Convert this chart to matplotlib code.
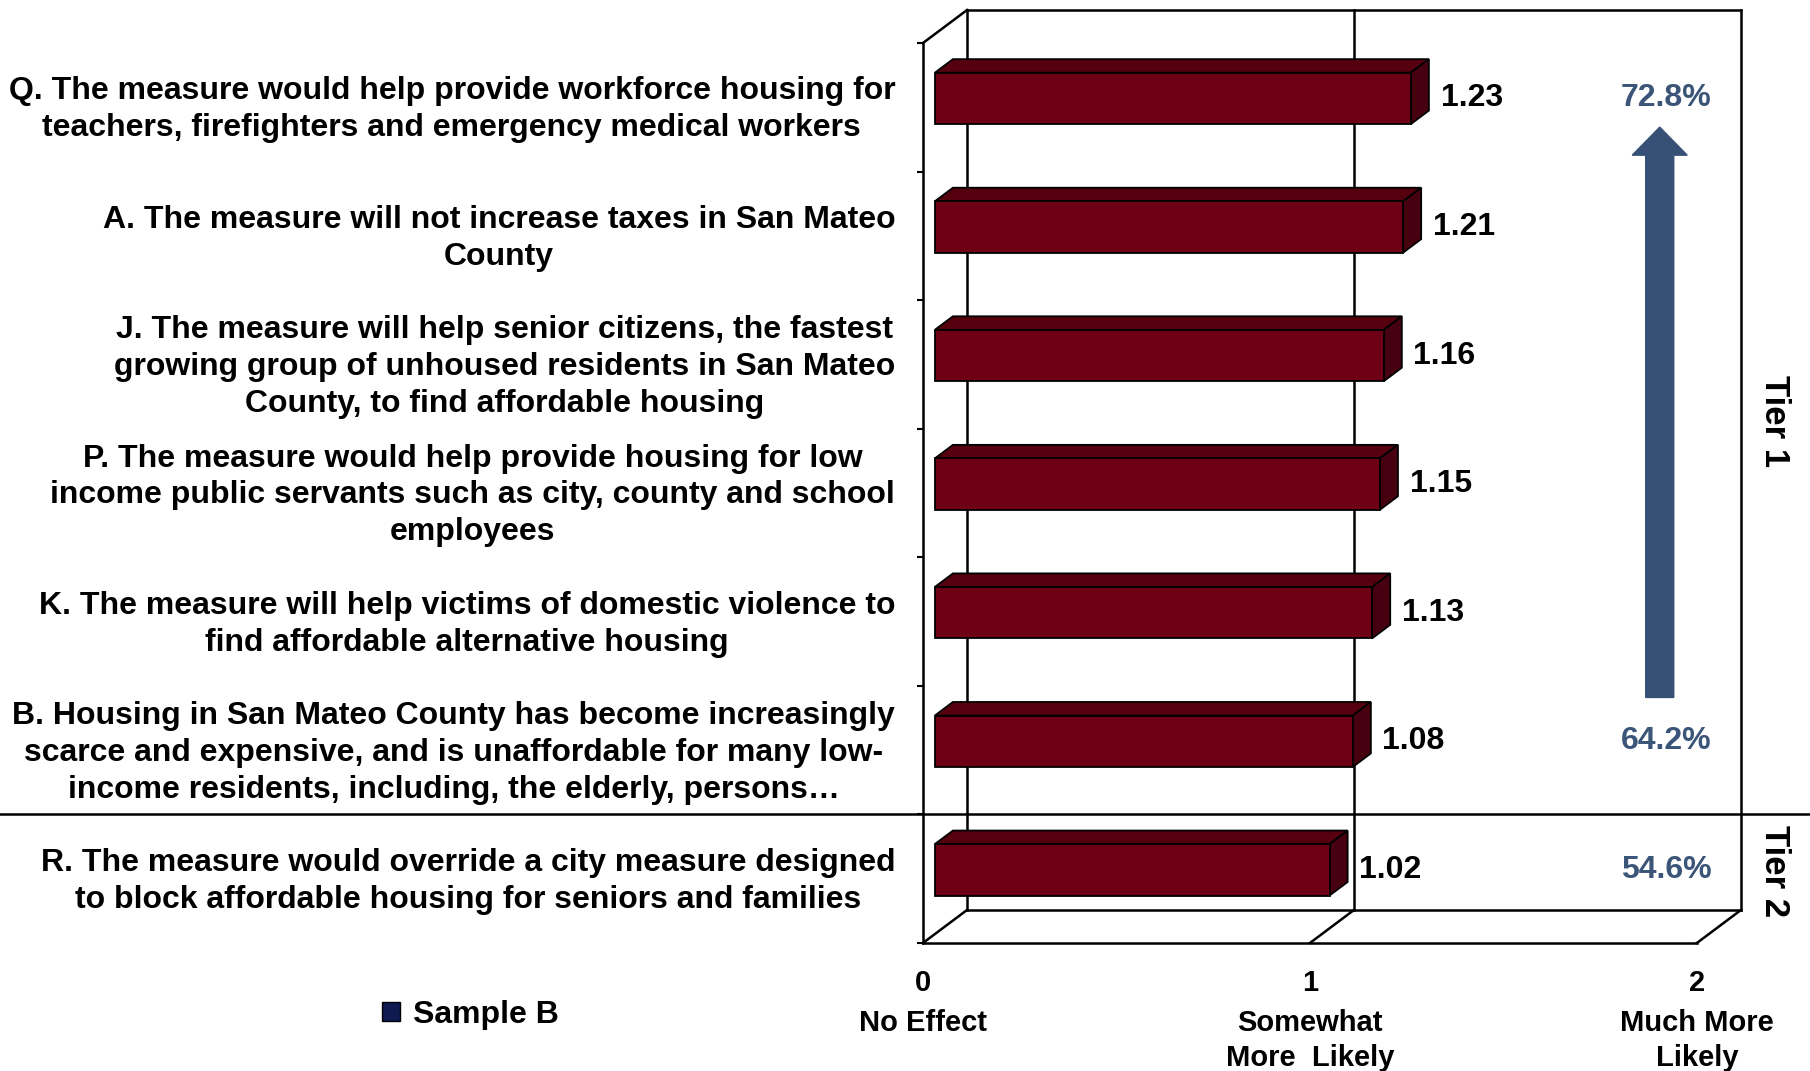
import matplotlib.pyplot as plt
import matplotlib.transforms as mtransforms
from matplotlib.patches import Polygon, Patch, FancyArrow

plt.rcParams['font.family'] = ['Liberation Sans', 'DejaVu Sans']
plt.rcParams['font.weight'] = 'bold'

# statements, top to bottom
labels = [
    "Q. The measure would help provide workforce housing for\nteachers, firefighters and emergency medical workers",
    "A. The measure will not increase taxes in San Mateo\nCounty",
    "J. The measure will help senior citizens, the fastest\ngrowing group of unhoused residents in San Mateo\nCounty, to find affordable housing",
    "P. The measure would help provide housing for low\nincome public servants such as city, county and school\nemployees",
    "K. The measure will help victims of domestic violence to\nfind affordable alternative housing",
    "B. Housing in San Mateo County has become increasingly\nscarce and expensive, and is unaffordable for many low-\nincome residents, including, the elderly, persons\u2026",
    "R. The measure would override a city measure designed\nto block affordable housing for seniors and families",
]
scores = [1.23, 1.21, 1.16, 1.15, 1.13, 1.08, 1.02]

pct_rows = [0, 5, 6]
pct_text = ["72.8%", "64.2%", "54.6%"]

x_ticks = [0, 1, 2]
x_tick_text = ["0", "1", "2"]
x_desc = ["No Effect", "Somewhat\nMore  Likely", "Much More\nLikely"]

BAR_FRONT = "#6e0016"
BAR_TOP = "#56000f"
BAR_SIDE = "#470010"
ARROW_BLUE = "#365076"
TEXT_BLUE = "#3b5579"
LEGEND_NAVY = "#0e1a50"

# depth of the 3d box in data units, and where the bars sit inside it
DX, DY = 0.114, -0.257
D0, D1 = 0.27, 0.68
HALF = 0.2
LW = 1.8


def depth(x, y, d):
    return (x + d * DX, y + d * DY)


n = len(labels)
fig = plt.figure(figsize=(18.1, 10.71), dpi=100)
ax = fig.add_axes([0.5099, 0.1195, 0.4276, 0.8403])

# back wall, left wall and floor lines
top, bot = -0.5, n - 0.5
segments = [
    [(0, top, 0), (0, top, 1)],
    [(0, top, 1), (2, top, 1)],
    [(0, top, 1), (0, bot, 1)],
    [(1, top, 1), (1, bot, 1)],
    [(2, top, 1), (2, bot, 1)],
    [(0, bot, 1), (2, bot, 1)],
    [(0, bot, 0), (0, bot, 1)],
    [(1, bot, 0), (1, bot, 1)],
    [(2, bot, 0), (2, bot, 1)],
]
for seg in segments:
    xs, ys = zip(*[depth(*p) for p in seg])
    ax.plot(xs, ys, color="black", lw=LW, clip_on=False, zorder=1)

# 3d bars: top and side faces, then the front face
for i, v in enumerate(scores):
    y0, y1 = i - HALF, i + HALF
    top_face = [depth(0, y0, D0), depth(v, y0, D0), depth(v, y0, D1), depth(0, y0, D1)]
    side_face = [depth(v, y0, D0), depth(v, y1, D0), depth(v, y1, D1), depth(v, y0, D1)]
    ax.add_patch(Polygon(top_face, fc=BAR_TOP, ec="black", lw=1.3, zorder=2, clip_on=False))
    ax.add_patch(Polygon(side_face, fc=BAR_SIDE, ec="black", lw=1.3, zorder=2, clip_on=False))
ax.barh([i + D0 * DY for i in range(n)], scores, left=D0 * DX, height=2 * HALF,
        color=BAR_FRONT, edgecolor="black", linewidth=1.3, zorder=3)

for i, v in enumerate(scores):
    ax.text(v + D1 * DX + 0.03, i + D0 * DY, f"{v:.2f}", ha="left", va="center",
            fontsize=23, zorder=4)

for r, t in zip(pct_rows, pct_text):
    ax.text(1.92, r + D0 * DY, t, ha="center", va="center", color=TEXT_BLUE, fontsize=23)

ax.add_patch(FancyArrow(1.904, 4.59, 0, 0.154 - 4.59, width=0.0724, head_width=0.142,
                        head_length=0.218, length_includes_head=True,
                        color=ARROW_BLUE, zorder=2, clip_on=False))

# axes and ticks (labels nudged up a little so the text block is centred)
ax.set_yticks([i - 0.035 for i in range(n)])
ax.set_yticklabels(labels, fontsize=23, ma="center", linespacing=1.3)
ax.set_yticks([k - 0.5 for k in range(n + 1)], minor=True)
ax.tick_params(axis="y", which="major", length=0, pad=20)
ax.tick_params(axis="y", which="minor", length=4.5, width=1.5, direction="out")
ax.set_xticks(x_ticks)
ax.set_xticklabels(x_tick_text, fontsize=21)
ax.tick_params(axis="x", length=0, pad=19)
for s in ["top", "right"]:
    ax.spines[s].set_visible(False)
ax.spines["left"].set_linewidth(LW)
ax.spines["bottom"].set_linewidth(LW)

trans = mtransforms.blended_transform_factory(ax.transData, fig.transFigure)
for x, t in zip(x_ticks, x_desc):
    ax.text(x, 1 - 1009 / 1071, t, transform=trans, ha="center", va="top",
            fontsize=21, linespacing=1.3)

# tier separator across the whole figure
sep = mtransforms.blended_transform_factory(fig.transFigure, ax.transData)
ax.plot([0, 1], [n - 1.5, n - 1.5], transform=sep, color="black", lw=LW, clip_on=False)

fig.text(1774 / 1810, 1 - 421 / 1071, "Tier 1", rotation=270, ha="center", va="center", fontsize=25)
fig.text(1774 / 1810, 1 - 871 / 1071, "Tier 2", rotation=270, ha="center", va="center", fontsize=25)

fig.legend(handles=[Patch(fc=LEGEND_NAVY, ec="black", lw=1)], labels=["Sample B"],
           loc="center left", bbox_to_anchor=(382 / 1810, 1 - 1015 / 1071),
           frameon=False, prop={"size": 23, "weight": "bold"}, handlelength=0.56,
           handleheight=0.56, handletextpad=0.4, borderpad=0, borderaxespad=0)

ax.set_xlim(0, 2)
ax.set_ylim(n - 0.5, -0.5)

fig.savefig("out.png", dpi=100, facecolor="white")
